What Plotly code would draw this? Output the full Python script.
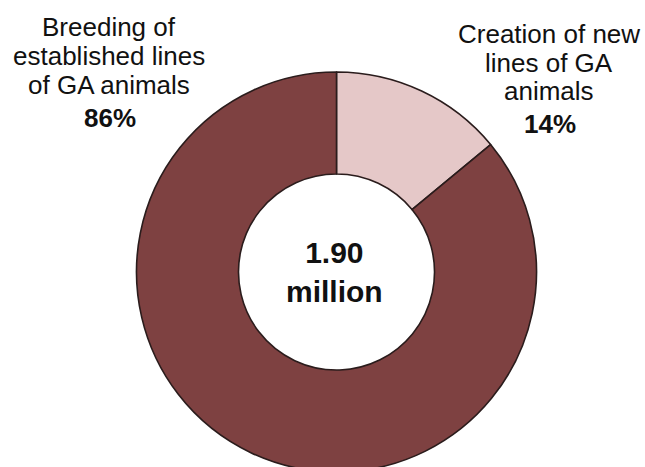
import plotly.graph_objects as go

# ---- data ----
categories = ["Creation of new lines of GA animals", "Breeding of established lines of GA animals"]
shares_pct = [14, 86]
total_label = ["1.90", "million"]
label_lines_left = ["Breeding of", "established lines", "of GA animals"]
label_lines_right = ["Creation of new", "lines of GA", "animals"]
pct_texts = ["14%", "86%"]

colors = ["#E5C8C8", "#7E4141"]

# figure slightly taller than the window so the donut can run off the bottom edge
W, H = 645, 480

def px(x):
    return x / W

def py(y):
    return 1 - y / H

# donut geometry in window pixels
CX, CY, R = 336.5, 272.0, 200.0

fig = go.Figure()
fig.add_trace(go.Pie(
    labels=categories,
    values=shares_pct,
    sort=False,
    direction="clockwise",
    rotation=0,
    hole=0.49,
    textinfo="none",
    hoverinfo="skip",
    marker=dict(colors=colors, line=dict(color="#2a1c1c", width=1.6)),
    domain=dict(x=[px(CX - R), px(CX + R)], y=[py(CY + R), py(CY - R)]),
    showlegend=False,
))

font_family = "Liberation Sans, Arial, sans-serif"
anns = []
left_y = [27.5, 56.2, 85.0]
for t, yy in zip(label_lines_left, left_y):
    anns.append(dict(text=t, x=px(108.5), y=py(yy), xref="paper", yref="paper",
                     xanchor="center", yanchor="middle", showarrow=False,
                     font=dict(family=font_family, size=26, color="#111111")))
anns.append(dict(text="<b>" + pct_texts[1] + "</b>", x=px(109.5), y=py(118), xref="paper", yref="paper",
                 xanchor="center", yanchor="middle", showarrow=False,
                 font=dict(family=font_family, size=26, color="#111111")))
right_y = [34.2, 62.5, 90.8]
for t, yy in zip(label_lines_right, right_y):
    anns.append(dict(text=t, x=px(549), y=py(yy), xref="paper", yref="paper",
                     xanchor="center", yanchor="middle", showarrow=False,
                     font=dict(family=font_family, size=26, color="#111111")))
anns.append(dict(text="<b>" + pct_texts[0] + "</b>", x=px(550), y=py(124), xref="paper", yref="paper",
                 xanchor="center", yanchor="middle", showarrow=False,
                 font=dict(family=font_family, size=26, color="#111111")))
anns.append(dict(text="<b>" + total_label[0] + "<br>" + total_label[1] + "</b>",
                 x=px(334), y=py(272), xref="paper", yref="paper",
                 xanchor="center", yanchor="middle", showarrow=False,
                 font=dict(family=font_family, size=30, color="#111111")))

fig.update_layout(
    width=W, height=H,
    margin=dict(l=0, r=0, t=0, b=0),
    paper_bgcolor="white", plot_bgcolor="white",
    annotations=anns,
)

fig.write_html(
    "out.html",
    config={"displayModeBar": False},
    post_script="document.body.style.margin='0';document.body.style.overflow='hidden';"
                "document.documentElement.style.overflow='hidden';",
)
